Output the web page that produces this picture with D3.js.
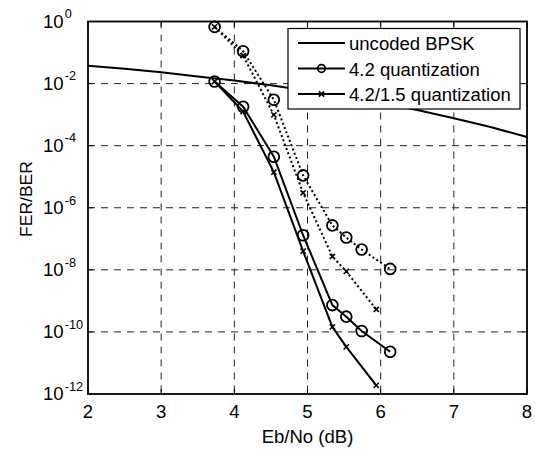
<!DOCTYPE html>
<html><head><meta charset="utf-8">
<script src="https://cdn.jsdelivr.net/npm/d3@7"></script>
<style>
body{margin:0;background:#fff;}
svg{display:block;font-family:"Liberation Sans",Arial,Helvetica,sans-serif;}
</style></head>
<body>
<svg id="c" width="536" height="449"></svg>
<script>
// ---- data ----
const bpskX = [2, 2.5, 3, 3.5, 4, 4.5, 5, 5.5, 6, 6.5, 7, 7.5, 8];
const bpskY = [3.75e-2, 3.0e-2, 2.3e-2, 1.7e-2, 1.25e-2, 8.8e-3, 5.9e-3, 3.9e-3, 2.4e-3, 1.4e-3, 7.7e-4, 4.0e-4, 1.9e-4];

const q42X   = [3.73, 4.12, 4.54, 4.94, 5.34, 5.53, 5.74, 6.13];
const q42Fer = [0.67, 0.11, 3.0e-3, 1.1e-5, 2.7e-7, 1.1e-7, 4.5e-8, 1.07e-8];
const q42Ber = [1.17e-2, 1.8e-3, 4.4e-5, 1.3e-7, 7.3e-10, 3.1e-10, 1.07e-10, 2.3e-11];

const q15X   = [3.73, 4.12, 4.54, 4.94, 5.34, 5.53, 5.94];
const q15Fer = [0.67, 0.08, 9.8e-4, 3.0e-6, 2.7e-8, 8.9e-9, 5.3e-10];
const q15Ber = [1.17e-2, 1.25e-3, 1.4e-5, 4.0e-8, 1.45e-10, 3.3e-11, 1.9e-12];

const xTicks = [2, 3, 4, 5, 6, 7, 8];
const yExps  = [0, -2, -4, -6, -8, -10, -12];
const legendLabels = ["uncoded BPSK", "4.2 quantization", "4.2/1.5 quantization"];

// ---- layout ----
const L = 88, R = 527, T = 21.5, B = 394;
const FS = 17.5, SX = 1.06;
const svg = d3.select("#c");
const x = d3.scaleLinear().domain([2, 8]).range([L, R]);
const y = d3.scaleLog().domain([1e-12, 1]).range([B, T]);

function txt(g, tx, ty, s, size, anchor, rot) {
  const t = g.append("text")
    .attr("transform", `translate(${tx},${ty})` + (rot ? ` rotate(${rot})` : "") + ` scale(${SX},1)`)
    .attr("font-size", size).attr("text-anchor", anchor || "start");
  if (s !== null) t.text(s);
  return t;
}

// grid
const grid = svg.append("g").attr("stroke", "#222").attr("stroke-width", 1).attr("stroke-dasharray", "7,6");
grid.selectAll("line.gx").data(xTicks.slice(1, -1)).join("line")
  .attr("x1", d => x(d)).attr("x2", d => x(d)).attr("y1", T).attr("y2", B);
grid.selectAll("line.gy").data(yExps.slice(1, -1)).join("line")
  .attr("x1", L).attr("x2", R).attr("y1", d => y(Math.pow(10, d))).attr("y2", d => y(Math.pow(10, d)));

// ticks (inside, all four sides)
const tk = svg.append("g").attr("stroke", "#000").attr("stroke-width", 1);
xTicks.forEach(d => {
  tk.append("line").attr("x1", x(d)).attr("x2", x(d)).attr("y1", B).attr("y2", B - 5);
  tk.append("line").attr("x1", x(d)).attr("x2", x(d)).attr("y1", T).attr("y2", T + 5);
});
yExps.forEach(e => {
  const yy = y(Math.pow(10, e));
  tk.append("line").attr("x1", L).attr("x2", L + 5).attr("y1", yy).attr("y2", yy);
  tk.append("line").attr("x1", R).attr("x2", R - 5).attr("y1", yy).attr("y2", yy);
});

// tick labels
const lab = svg.append("g");
xTicks.forEach(d => txt(lab, x(d), 418, String(d), FS, "middle"));
yExps.forEach(e => {
  const t = txt(lab, 43, y(Math.pow(10, e)) + 6.3, null, FS, "start");
  t.append("tspan").text("10");
  t.append("tspan").attr("dy", -9.5).attr("dx", 1).attr("font-size", 12).text(e);
});

// axis labels
txt(svg, (L + R) / 2, 443, "Eb/No (dB)", FS, "middle");
txt(svg, 32, 199, "FER/BER", 16.5, "middle", -90);

// lines
const line = (xs) => d3.line().x((d, i) => x(xs[i])).y(d => y(d));

svg.append("path").datum(bpskY).attr("d", line(bpskX)).attr("fill", "none")
  .attr("stroke", "#000").attr("stroke-width", 2);

const series = [
  {xs: q42X, ys: q42Fer, dash: "2,2.6", mk: "o"},
  {xs: q15X, ys: q15Fer, dash: "2,2.6", mk: "x"},
  {xs: q42X, ys: q42Ber, dash: null, mk: "o"},
  {xs: q15X, ys: q15Ber, dash: null, mk: "x"}
];

function drawMarker(g, cx, cy, mk, r) {
  if (mk === "o") {
    g.append("circle").attr("cx", cx).attr("cy", cy).attr("r", r || 5.4)
      .attr("fill", "none").attr("stroke", "#000").attr("stroke-width", 1.8);
  } else {
    const s = 2.6;
    g.append("path").attr("d", `M${cx - s},${cy - s}L${cx + s},${cy + s}M${cx - s},${cy + s}L${cx + s},${cy - s}`)
      .attr("stroke", "#000").attr("stroke-width", 1.6).attr("fill", "none");
  }
}

series.forEach(s => {
  const p = svg.append("path").datum(s.ys).attr("d", line(s.xs)).attr("fill", "none")
    .attr("stroke", "#000").attr("stroke-width", 2);
  if (s.dash) p.attr("stroke-dasharray", s.dash);
  const g = svg.append("g");
  s.ys.forEach((v, i) => drawMarker(g, x(s.xs[i]), y(v), s.mk));
});

// axes box
svg.append("rect").attr("x", L).attr("y", T).attr("width", R - L).attr("height", B - T)
  .attr("fill", "none").attr("stroke", "#000").attr("stroke-width", 1.8);

// legend
const lg = svg.append("g");
lg.append("rect").attr("x", 288).attr("y", 28.5).attr("width", 232).attr("height", 80.5)
  .attr("fill", "#fff").attr("stroke", "#000").attr("stroke-width", 1.2);
const ly = [43, 68.5, 94];
const lmk = [null, "o", "x"];
legendLabels.forEach((t, i) => {
  lg.append("line").attr("x1", 298).attr("x2", 345).attr("y1", ly[i]).attr("y2", ly[i])
    .attr("stroke", "#000").attr("stroke-width", 2);
  if (lmk[i]) drawMarker(lg, 321.5, ly[i], lmk[i], 3.8);
  txt(lg, 349, ly[i] + 7, t, FS, "start");
});
</script>
</body></html>
